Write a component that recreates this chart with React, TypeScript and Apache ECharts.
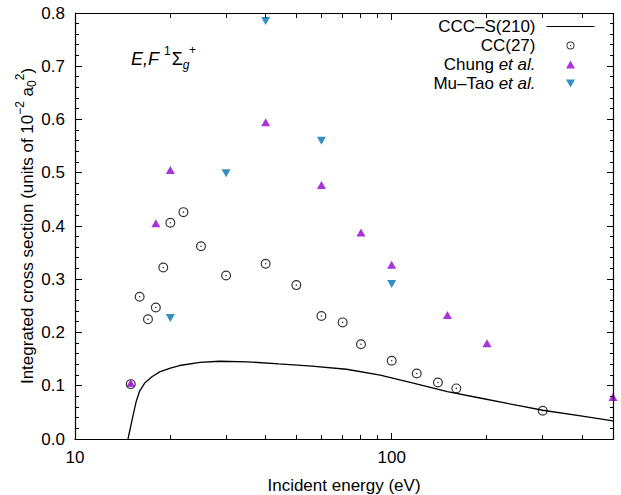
import React, { useEffect, useRef } from 'react';
import * as echarts from 'echarts';

const FONT = 'Liberation Sans, Arial, sans-serif';

// CCC-S(210) curve
const cccEnergy = [14.7, 15.2, 15.6, 16.0, 16.6, 17.5, 18.5, 20, 21.4, 24.8, 28.6, 35, 44, 56, 72, 92, 117, 150, 190, 250, 300, 400, 500];
const cccValue = [0, 0.04, 0.07, 0.09, 0.105, 0.117, 0.126, 0.133, 0.138, 0.144, 0.146, 0.145, 0.141, 0.137, 0.131, 0.12, 0.105, 0.089, 0.077, 0.063, 0.054, 0.043, 0.034];

// CC(27)
const ccEnergy = [15, 16, 17, 18, 19, 20, 22, 25, 30, 40, 50, 60, 70, 80, 100, 120, 140, 160, 300];
const ccValue = [0.103, 0.267, 0.225, 0.247, 0.322, 0.406, 0.426, 0.362, 0.307, 0.329, 0.289, 0.231, 0.219, 0.178, 0.147, 0.123, 0.106, 0.095, 0.053];

// Chung et al.
const chungEnergy = [15, 18, 20, 40, 60, 80, 100, 150, 200, 500];
const chungValue = [0.105, 0.405, 0.505, 0.595, 0.477, 0.388, 0.327, 0.233, 0.18, 0.079];

// Mu-Tao et al.
const muTaoEnergy = [20, 30, 40, 60, 100];
const muTaoValue = [0.227, 0.499, 0.785, 0.56, 0.291];

// axis ranges and ticks
const X_MIN = 10;
const X_MAX = 500;
const Y_MIN = 0;
const Y_MAX = 0.8;
const xMajorTicks = [10, 100];
const xMinorTicks = [20, 30, 40, 50, 60, 70, 80, 90, 200, 300, 400];
const yMajorTicks = [0, 0.1, 0.2, 0.3, 0.4, 0.5, 0.6, 0.7, 0.8];
const yMinorTicks = [
  0.02, 0.04, 0.06, 0.08, 0.12, 0.14, 0.16, 0.18, 0.22, 0.24, 0.26, 0.28, 0.32, 0.34, 0.36, 0.38,
  0.42, 0.44, 0.46, 0.48, 0.52, 0.54, 0.56, 0.58, 0.62, 0.64, 0.66, 0.68, 0.72, 0.74, 0.76, 0.78,
];

const names = ['CCC–S(210)', 'CC(27)', 'Chung et al.', 'Mu–Tao et al.'];

const zip = (xs: number[], ys: number[]) => xs.map((x, i) => [x, ys[i]]);

const ringDot =
  'path://M0,-10 A10,10 0 1,1 0,10 A10,10 0 1,1 0,-10 Z M0,-7.6 A7.6,7.6 0 1,0 0,7.6 A7.6,7.6 0 1,0 0,-7.6 Z M0,-1.6 A1.6,1.6 0 1,1 0,1.6 A1.6,1.6 0 1,1 0,-1.6 Z';
const triUp = 'path://M5,0 L10,9 L0,9 Z';
const triDown = 'path://M0,0 L10,0 L5,9 Z';

const W = 621;
const H = 495;
const GRID = { left: 75, right: 8, top: 13, bottom: 56 };

export default function App() {
  const ref = useRef<HTMLDivElement>(null);
  useEffect(() => {
    if (!ref.current) return;
    const chart = echarts.init(ref.current, undefined, { renderer: 'svg' });
    const labelStyle = { fontFamily: FONT, fontSize: 17, color: '#000' };
    const axisParts = {
      axisLine: { show: true, onZero: false, lineStyle: { color: '#000', width: 1 } },
      axisTick: { show: false },
      minorTick: { show: false },
      splitLine: { show: false },
    };
    chart.setOption({
      animation: false,
      backgroundColor: '#fff',
      textStyle: { fontFamily: FONT },
      grid: { ...GRID, containLabel: false, outerBoundsMode: 'none' },
      legend: {
        orient: 'vertical',
        right: 26,
        top: 17,
        padding: 0,
        align: 'right',
        itemWidth: 48,
        itemHeight: 8,
        itemGap: 0,
        selectedMode: false,
        data: [
          { name: names[0], itemStyle: { opacity: 0 }, lineStyle: { width: 1 } },
          names[1],
          names[2],
          names[3],
        ],
        formatter: (name: string) => {
          if (name === 'Chung et al.') return 'Chung {i|et al.}';
          if (name === 'Mu–Tao et al.') return 'Mu–Tao {i|et al.}';
          return name;
        },
        textStyle: {
          fontFamily: FONT,
          fontSize: 17,
          color: '#000',
          lineHeight: 19,
          padding: [0, 6, 0, 0],
          rich: { i: { fontFamily: FONT, fontSize: 17, fontStyle: 'italic', color: '#000', lineHeight: 19 } },
        },
      },
      xAxis: [
        {
          type: 'log',
          logBase: 10,
          min: X_MIN,
          max: X_MAX,
          position: 'bottom',
          ...axisParts,
          axisLabel: {
            ...labelStyle,
            margin: 10,
            formatter: (v: number) => {
              const l = Math.log10(v);
              return Math.abs(l - Math.round(l)) < 1e-6 ? String(Math.round(v)) : '';
            },
          },
          name: 'Incident energy (eV)',
          nameLocation: 'middle',
          nameGap: 38,
          nameMoveOverlap: false,
          nameTextStyle: labelStyle,
        },
      ],
      yAxis: [
        {
          type: 'value',
          min: Y_MIN,
          max: Y_MAX,
          interval: 0.1,
          position: 'left',
          ...axisParts,
          axisLabel: { ...labelStyle, margin: 10, formatter: (v: number) => v.toFixed(1) },
          name: 'Integrated cross section (units of 10{sup|−2} a{sub|0}{sup|2})',
          nameLocation: 'middle',
          nameRotate: 90,
          nameGap: 35,
          nameMoveOverlap: false,
          nameTextStyle: {
            ...labelStyle,
            rich: {
              sup: { fontFamily: FONT, fontSize: 12, color: '#000', padding: [0, 0, 14, 0] },
              sub: { fontFamily: FONT, fontSize: 12, color: '#000', padding: [10, 0, 0, 0] },
            },
          },
        },
      ],
      series: [
        {
          name: names[0],
          type: 'line',
          data: zip(cccEnergy, cccValue),
          symbol: 'none',
          color: '#000',
          lineStyle: { color: '#000', width: 1.3 },
          z: 2,
        },
        {
          name: names[1],
          type: 'scatter',
          data: zip(ccEnergy, ccValue),
          symbol: ringDot,
          symbolSize: 10,
          itemStyle: { color: '#000' },
          z: 3,
        },
        {
          name: names[2],
          type: 'scatter',
          data: zip(chungEnergy, chungValue),
          symbol: triUp,
          symbolSize: [9, 8],
          itemStyle: { color: '#9400D3' },
          z: 4,
        },
        {
          name: names[3],
          type: 'scatter',
          data: zip(muTaoEnergy, muTaoValue),
          symbol: triDown,
          symbolSize: [9, 8],
          itemStyle: { color: '#0072B2' },
          z: 5,
        },
      ],
    });

    // plot frame from the grid layout; tick positions through the axes' scales
    const L = GRID.left;
    const R = W - GRID.right;
    const T = GRID.top;
    const B = H - GRID.bottom;
    const safe = (f: () => any) => {
      try {
        const r = f();
        const n = Array.isArray(r) ? r[0] : r;
        return typeof n === 'number' && isFinite(n) ? n : NaN;
      } catch (e) {
        return NaN;
      }
    };
    const near = (a: number, b: number) => isFinite(a) && Math.abs(a - b) < 2;
    const xRaw = (v: number) => safe(() => chart.convertToPixel({ xAxisIndex: 0 }, v));
    const xLog = (v: number) => safe(() => chart.convertToPixel({ xAxisIndex: 0 }, Math.log10(v)));
    const xLin = (v: number) =>
      L + ((R - L) * (Math.log10(v) - Math.log10(X_MIN))) / (Math.log10(X_MAX) - Math.log10(X_MIN));
    let xPx = xLin;
    if (near(xRaw(X_MIN), L) && near(xRaw(X_MAX), R)) xPx = xRaw;
    else if (near(xLog(X_MIN), L) && near(xLog(X_MAX), R)) xPx = xLog;
    const yRaw = (v: number) => safe(() => chart.convertToPixel({ yAxisIndex: 0 }, v));
    const yLin = (v: number) => B - ((B - T) * (v - Y_MIN)) / (Y_MAX - Y_MIN);
    const yPx = near(yRaw(Y_MIN), B) && near(yRaw(Y_MAX), T) ? yRaw : yLin;

    const els: any[] = [];
    // outline drawn as a stroked polyline (in addition to filled edge strips)
    els.push({
      type: 'polyline',
      silent: true,
      z: 20,
      shape: { points: [[L + 0.5, T + 0.5], [R + 0.5, T + 0.5], [R + 0.5, B + 0.5], [L + 0.5, B + 0.5], [L + 0.5, T + 0.5]] },
      style: { stroke: '#000', lineWidth: 1.2, fill: 'none' },
    });
    const rect = (x: number, y: number, w: number, h: number) =>
      els.push({ type: 'rect', silent: true, z: 20, shape: { x, y, width: w, height: h }, style: { fill: '#000' } });
    rect(L, T, R - L + 1, 1);
    rect(L, B, R - L + 1, 1);
    rect(L, T, 1, B - T + 1);
    rect(R, T, 1, B - T + 1);
    const xt = (v: number, len: number) => {
      const px = Math.floor(xPx(v));
      rect(px, B - len, 1, len);
      rect(px, T + 1, 1, len);
    };
    const yt = (v: number, len: number) => {
      const py = Math.floor(yPx(v));
      rect(L + 1, py, len, 1);
      rect(R - len, py, len, 1);
    };
    xMajorTicks.forEach((v) => xt(v, 6));
    xMinorTicks.forEach((v) => xt(v, 4));
    yMajorTicks.forEach((v) => yt(v, 6));
    yMinorTicks.forEach((v) => yt(v, 3));

    chart.setOption({
      graphic: [
        {
          type: 'text',
          x: 131,
          y: 59,
          z: 10,
          style: {
            text: '{it|E,F}{sup|1}{b|Σ}{sub|g}',
            verticalAlign: 'middle',
            fill: '#000',
            rich: {
              it: { fontFamily: FONT, fontSize: 18, fontStyle: 'italic', fill: '#000' },
              b: { fontFamily: FONT, fontSize: 18, fill: '#000' },
              sup: { fontFamily: FONT, fontSize: 12, fill: '#000', padding: [0, 1, 16, 5] },
              sub: { fontFamily: FONT, fontSize: 12, fontStyle: 'italic', fill: '#000', padding: [12, 0, 0, 0] },
            },
          },
        },
        {
          type: 'text',
          x: 189,
          y: 50,
          z: 10,
          style: { text: '+', fontFamily: FONT, fontSize: 12, fill: '#000', verticalAlign: 'middle' },
        },
        ...els,
      ],
    });
    return () => chart.dispose();
  }, []);
  return <div ref={ref} style={{ position: 'fixed', left: 0, top: 0, width: 621, height: 495 }} />;
}
